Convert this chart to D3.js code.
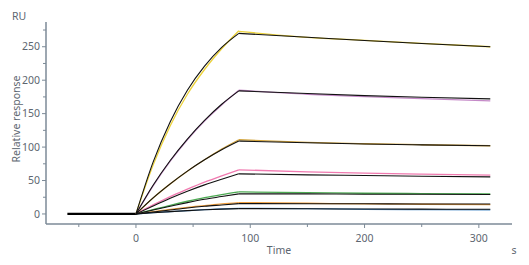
<!DOCTYPE html>
<html>
<head>
<meta charset="utf-8">
<script src="https://cdn.jsdelivr.net/npm/d3@7"></script>
<style>
  body { margin: 0; background: #fff; }
  text { font-family: "Noto Sans", "Open Sans", sans-serif; fill: #5d6670; }
</style>
</head>
<body>
<div id="chart"></div>
<script>
// times (s) for baseline, association and dissociation
var baseTimes = [-60, 0];
var assocTimes = [0, 15, 30, 45, 60, 75, 90];
var dissocTimes = [90, 150, 200, 250, 310];

// measured responses (RU), colored traces
var yellowData = [0, 73, 132, 179, 216, 247, 274];
var yellowDataOff = [273, 264, 259.5, 255, 250];
var purpleData = [0, 42, 79, 111, 139, 163, 185];
var purpleDataOff = [185, 179, 175.5, 172.5, 169];
var oliveData = [0, 24, 45, 64, 81, 97, 111];
var oliveDataOff = [111, 107, 105, 103.5, 102];
var pinkData = [0, 13.5, 26, 37, 47.5, 57, 66];
var pinkDataOff = [66, 63, 61, 59.5, 58];
var greenData = [0, 6.5, 13, 19, 24.5, 29, 33];
var greenDataOff = [33, 32, 31, 30.5, 30];
var orangeData = [0, 3.5, 7, 10, 12.5, 15, 17];
var orangeDataOff = [17, 16, 15, 14.5, 14];
var blueData = [0, 2, 3.5, 5, 6.5, 7.5, 8.5];
var blueDataOff = [8.5, 8, 7, 6.5, 6];

// fitted curves (black)
var yellowFit = [0, 77.5, 138, 185, 221, 249, 270];
var yellowFitOff = [270, 264.2, 259.4, 254.9, 250];
var purpleFit = [0, 43, 80, 112, 140, 164, 184];
var purpleFitOff = [184, 180, 177, 174.5, 172];
var oliveFit = [0, 24, 45, 64, 81, 96, 109];
var oliveFitOff = [109, 106.5, 104.6, 103.3, 102];
var pinkFit = [0, 12, 23.5, 34, 43.5, 52, 60];
var pinkFitOff = [60, 58.5, 57.5, 56.5, 55.5];
var greenFit = [0, 6, 11.5, 17, 22, 26, 30];
var greenFitOff = [30, 30, 29.5, 29.5, 29];
var orangeFit = [0, 3, 6, 9, 11.5, 13.5, 15.5];
var orangeFitOff = [15.5, 15.3, 15.2, 15, 15];
var blueFit = [0, 1.8, 3.5, 5, 6.3, 7.3, 8];
var blueFitOff = [8, 7.7, 7.4, 7.2, 7];

var xMajor = [0, 100, 200, 300];
var xMinor = [-50, 50, 150, 250];
var yMajor = [0, 50, 100, 150, 200, 250];
var yMinor = [25, 75, 125, 175, 225, 275];

var series = [
  {color: "#ecd23a", data: [yellowData, yellowDataOff], fit: [yellowFit, yellowFitOff]},
  {color: "#c58ac8", data: [purpleData, purpleDataOff], fit: [purpleFit, purpleFitOff]},
  {color: "#d2a43c", data: [oliveData, oliveDataOff], fit: [oliveFit, oliveFitOff]},
  {color: "#f07ab0", data: [pinkData, pinkDataOff], fit: [pinkFit, pinkFitOff]},
  {color: "#4caa52", data: [greenData, greenDataOff], fit: [greenFit, greenFitOff]},
  {color: "#f0a040", data: [orangeData, orangeDataOff], fit: [orangeFit, orangeFitOff]},
  {color: "#4a8cc8", data: [blueData, blueDataOff], fit: [blueFit, blueFitOff]}
];

var W = 529, H = 265;
var svg = d3.select("#chart").append("svg")
    .attr("width", W).attr("height", H);

var x = d3.scaleLinear().domain([-78.7, 329]).range([46, 512]);
var y = d3.scaleLinear().domain([-15, 287]).range([224, 22]);

var axisColor = "#7c8a97";

// y axis
var yAxis = svg.append("g").attr("transform", "translate(46,0)");
yAxis.append("line").attr("x1", 0).attr("x2", 0).attr("y1", y(287)).attr("y2", y(-15))
  .attr("stroke", axisColor).attr("stroke-width", 1.5);
yAxis.selectAll(".maj").data(yMajor).enter().append("line")
  .attr("x1", -4).attr("x2", 0).attr("y1", d => y(d)).attr("y2", d => y(d))
  .attr("stroke", axisColor);
yAxis.selectAll(".min").data(yMinor).enter().append("line")
  .attr("x1", -3).attr("x2", 0).attr("y1", d => y(d)).attr("y2", d => y(d))
  .attr("stroke", axisColor);
yAxis.selectAll("text").data(yMajor).enter().append("text")
  .attr("x", -6).attr("y", d => y(d)).attr("dy", "0.35em")
  .attr("text-anchor", "end").attr("font-size", 10.5).text(d => d);

// x axis
var xAxis = svg.append("g").attr("transform", "translate(0,224)");
xAxis.append("line").attr("x1", 46).attr("x2", 512).attr("y1", 0).attr("y2", 0)
  .attr("stroke", axisColor).attr("stroke-width", 1.5);
xAxis.selectAll(".maj").data(xMajor).enter().append("line")
  .attr("x1", d => x(d)).attr("x2", d => x(d)).attr("y1", 0).attr("y2", 4)
  .attr("stroke", axisColor);
xAxis.selectAll(".min").data(xMinor).enter().append("line")
  .attr("x1", d => x(d)).attr("x2", d => x(d)).attr("y1", 0).attr("y2", 3)
  .attr("stroke", axisColor);
xAxis.selectAll("text").data(xMajor).enter().append("text")
  .attr("x", d => x(d)).attr("y", 18)
  .attr("text-anchor", "middle").attr("font-size", 10.5).text(d => d);

// labels
svg.append("text").attr("x", 12).attr("y", 20).attr("font-size", 10.5).text("RU");
svg.append("text").attr("x", 279).attr("y", 254).attr("text-anchor", "middle")
  .attr("font-size", 10.5).text("Time");
svg.append("text").attr("x", 514).attr("y", 254).attr("text-anchor", "middle")
  .attr("font-size", 10.5).text("s");
svg.append("text").attr("transform", "translate(20,119) rotate(-90)")
  .attr("text-anchor", "middle").attr("font-size", 10.5).text("Relative response");

// curves
var line = d3.line()
  .x(d => x(d[0])).y(d => y(d[1]))
  .curve(d3.curveMonotoneX);

function pairs(times, vals) { return times.map((t, i) => [t, vals[i]]); }

var plot = svg.append("g").attr("fill", "none");

// common baseline before injection
plot.append("path")
  .attr("d", line(pairs(baseTimes, [0, 0])))
  .attr("stroke", "#000").attr("stroke-width", 2.2);

series.forEach(function(s) {
  plot.append("path").attr("d", line(pairs(assocTimes, s.data[0])))
    .attr("stroke", s.color).attr("stroke-width", 1.3);
  plot.append("path").attr("d", line(pairs(dissocTimes, s.data[1])))
    .attr("stroke", s.color).attr("stroke-width", 1.3);
});

series.forEach(function(s) {
  plot.append("path").attr("d", line(pairs(assocTimes, s.fit[0])))
    .attr("stroke", "#111").attr("stroke-width", 1.1);
  plot.append("path").attr("d", line(pairs(dissocTimes, s.fit[1])))
    .attr("stroke", "#111").attr("stroke-width", 1.1);
});
</script>
</body>
</html>
